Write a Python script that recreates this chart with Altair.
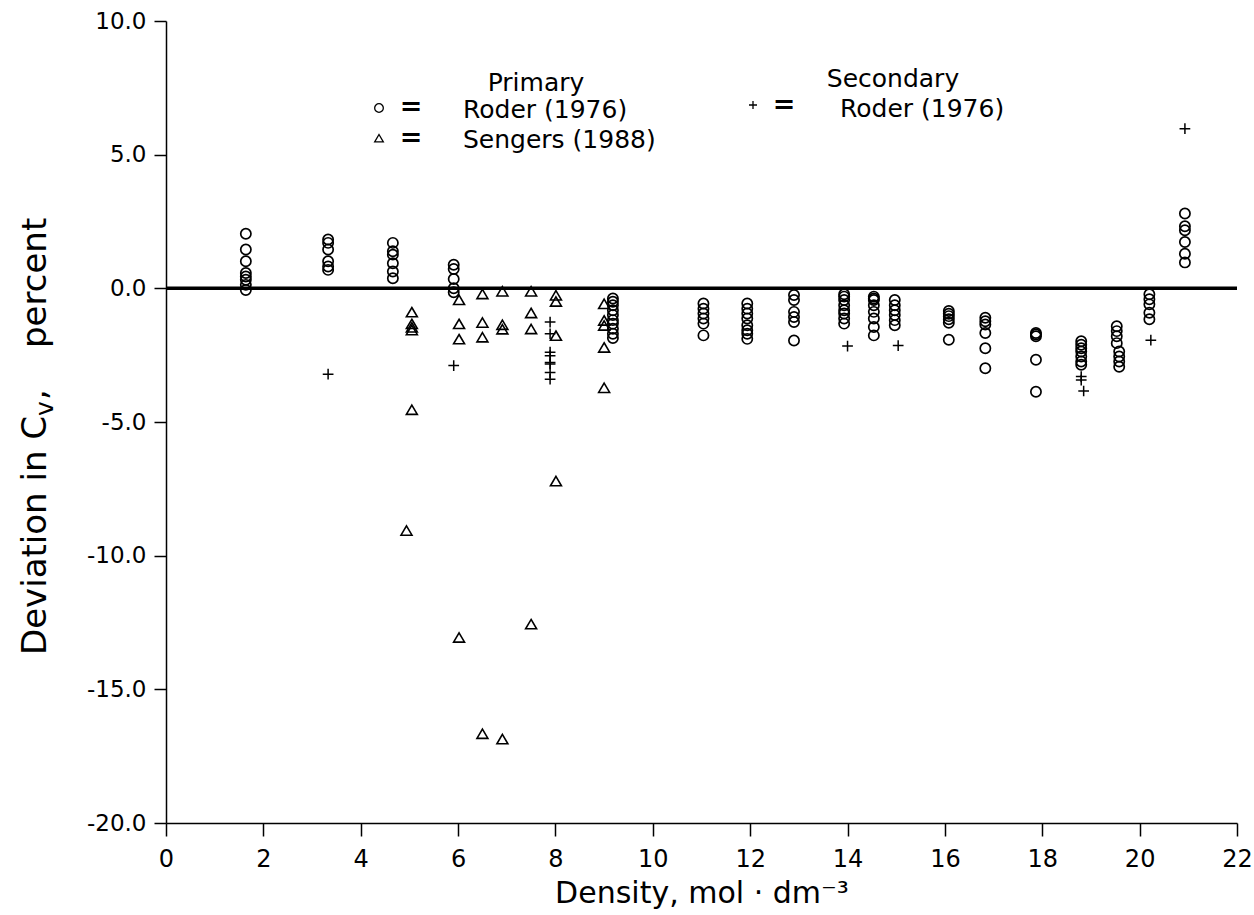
import altair as alt
import pandas as pd

# ---------------- data ----------------
# Primary: Roder (1976) -- open circles, grouped by density column
roder_density = [1.64, 3.33, 4.66, 5.91, 9.18, 11.04, 11.94, 12.90, 13.93,
                 14.54, 14.97, 16.08, 16.83, 17.87, 18.80, 19.53, 19.58,
                 20.20, 20.93]
roder_dev = [
    [2.04, 1.45, 1.01, 0.57, 0.44, 0.32, 0.13, -0.06],
    [1.83, 1.70, 1.45, 1.01, 0.82, 0.69],
    [1.70, 1.39, 1.26, 0.94, 0.63, 0.38],
    [0.88, 0.72, 0.35, 0.0, -0.15],
    [-0.38, -0.50, -0.63, -0.82, -1.00, -1.19, -1.32, -1.51, -1.70, -1.86],
    [-0.57, -0.76, -0.94, -1.13, -1.32, -1.76],
    [-0.57, -0.76, -0.94, -1.13, -1.38, -1.57, -1.70, -1.89],
    [-0.25, -0.44, -0.88, -1.07, -1.26, -1.95],
    [-0.22, -0.31, -0.44, -0.63, -0.82, -0.94, -1.13, -1.32],
    [-0.31, -0.38, -0.44, -0.63, -0.88, -1.13, -1.45, -1.76],
    [-0.44, -0.63, -0.82, -1.00, -1.19, -1.38],
    [-0.85, -0.95, -1.04, -1.16, -1.29, -1.92],
    [-1.10, -1.23, -1.35, -1.67, -2.24, -2.99],
    [-1.67, -1.73, -1.79, -2.67, -3.87],
    [-1.98, -2.11, -2.24, -2.36, -2.55, -2.74, -2.86],
    [-1.42, -1.60, -1.79, -2.05],
    [-2.36, -2.55, -2.74, -2.93],
    [-0.22, -0.41, -0.60, -0.91, -1.16],
    [2.80, 2.32, 2.17, 1.73, 1.29, 0.97],
]

# Primary: Sengers (1988) -- open triangles
sengers_density = [4.94, 5.05, 6.02, 6.50, 6.91, 7.50, 8.01, 9.00]
sengers_dev = [
    [-9.05],
    [-0.88, -1.32, -1.45, -1.55, -4.53],
    [-0.42, -1.32, -1.89, -13.05],
    [-0.20, -1.27, -1.82, -16.65],
    [-0.10, -1.35, -1.52, -16.85],
    [-0.10, -0.91, -1.51, -12.55],
    [-0.25, -0.48, -1.76, -7.20],
    [-0.57, -1.19, -1.38, -2.20, -3.71],
]

# Secondary: Roder (1976) -- plus signs
second_density = [3.33, 5.91, 7.89, 14.00, 15.04, 18.80, 18.85, 20.23, 20.93]
second_dev = [
    [-3.21],
    [-2.89],
    [-1.26, -1.70, -2.39, -2.52, -2.77, -2.83, -3.15, -3.40],
    [-2.16],
    [-2.14],
    [-3.30, -3.43],
    [-3.84],
    [-1.94],
    [5.97],
]

x_ticks = [0, 2, 4, 6, 8, 10, 12, 14, 16, 18, 20, 22]
y_ticks = [-20, -15, -10, -5, 0, 5, 10]

# y-axis title pieces (C with subscript v)
ytitle_parts = ["Deviation in C", "v", ",", "percent"]


def expand(dens, devs):
    rows = []
    for d, vals in zip(dens, devs):
        for v in vals:
            rows.append({"density": d, "dev": v})
    return pd.DataFrame(rows)


df_roder = expand(roder_density, roder_dev)
df_sengers = expand(sengers_density, sengers_dev)
df_second = expand(second_density, second_dev)

FONT = "DejaVu Sans"
LEFT, TOP = 166, 21
W, H = 1071, 802

TRI = "M0,-0.8L1,0.9L-1,0.9Z"
PLUS = "M-1,0H1M0,-1V1"

xscale = alt.Scale(domain=[0, 22], nice=False, zero=False)
yscale = alt.Scale(domain=[-20, 10], nice=False, zero=False)

xaxis = alt.Axis(
    values=x_ticks, format="d", grid=False,
    tickSize=13, tickWidth=1.5, tickColor="black",
    domainColor="black", domainWidth=1.5,
    labelFont=FONT, labelFontSize=24, labelColor="black", labelPadding=11,
    labelFlush=False,
    title="Density, mol · dm⁻³", titleFont=FONT, titleFontSize=30,
    titleFontWeight="normal", titleColor="black",
    titleY=79, titleBaseline="alphabetic",
)
yaxis = alt.Axis(
    values=y_ticks, grid=False,
    labelExpr="replace(format(datum.value, '.1f'), '\u2212', '-')",
    tickSize=12, tickWidth=1.5, tickColor="black",
    domainColor="black", domainWidth=1.5,
    labelFont=FONT, labelFontSize=23, labelColor="black", labelPadding=8,
    labelFlush=False,
    title=None,
)

base_x = alt.X("density:Q", scale=xscale, axis=xaxis)
base_y = alt.Y("dev:Q", scale=yscale, axis=yaxis)

zero_df = pd.DataFrame({"density": [0], "density2": [22], "dev": [0]})
zero_line = alt.Chart(zero_df).mark_rule(color="black", strokeWidth=3.5).encode(
    x=base_x, x2="density2:Q", y=base_y
)

circles = alt.Chart(df_roder).mark_point(
    shape="circle", size=105, filled=False, color="black", strokeWidth=1.7, opacity=1
).encode(x=base_x, y=base_y)

triangles = alt.Chart(df_sengers).mark_point(
    shape=TRI, size=120, filled=False, color="black", strokeWidth=1.6, opacity=1
).encode(x=base_x, y=base_y)

pluses = alt.Chart(df_second).mark_point(
    shape=PLUS, size=115, filled=False, color="black", strokeWidth=1.5, opacity=1
).encode(x=base_x, y=base_y)

# ---------------- y-axis title as rotated text pieces (pixel positions) ----------------
ytitle_df = pd.DataFrame({
    "label": ytitle_parts,
    "px": [46 - LEFT, 53 - LEFT, 46 - LEFT, 46 - LEFT],
    "py": [655 - TOP, 416 - TOP, 400 - TOP, 348 - TOP],
    "fs": [34, 25, 34, 34],
})
ytitle = alt.Chart(ytitle_df).mark_text(
    font=FONT, angle=270, align="left", baseline="alphabetic", color="black"
).encode(
    x=alt.X("px:Q", scale=None), y=alt.Y("py:Q", scale=None),
    size=alt.Size("fs:Q", scale=None, legend=None), text="label:N",
)

# ---------------- legend drawn as annotations (pixel positions) ----------------
leg_text = pd.DataFrame({
    "label": ["Primary", "Roder (1976)", "Sengers (1988)", "Secondary", "Roder (1976)"],
    "px": [536 - LEFT, 463 - LEFT, 463 - LEFT, 893 - LEFT, 840 - LEFT],
    "py": [91 - TOP, 118 - TOP, 148 - TOP, 87 - TOP, 117 - TOP],
    "align": ["center", "left", "left", "center", "left"],
})
leg_center = leg_text[leg_text["align"] == "center"]
leg_left = leg_text[leg_text["align"] == "left"]

txt_c = alt.Chart(leg_center).mark_text(
    font=FONT, fontSize=25, align="center", baseline="alphabetic", color="black"
).encode(x=alt.X("px:Q", scale=None), y=alt.Y("py:Q", scale=None), text="label:N")
txt_l = alt.Chart(leg_left).mark_text(
    font=FONT, fontSize=25, align="left", baseline="alphabetic", color="black"
).encode(x=alt.X("px:Q", scale=None), y=alt.Y("py:Q", scale=None), text="label:N")

eq_df = pd.DataFrame({
    "px": [411 - LEFT, 411 - LEFT, 784 - LEFT],
    "py": [107 - TOP, 138 - TOP, 105 - TOP],
    "label": ["=", "=", "="],
})
eq = alt.Chart(eq_df).mark_text(
    font=FONT, fontSize=27, fontWeight="bold", align="center", baseline="middle",
    color="black"
).encode(x=alt.X("px:Q", scale=None), y=alt.Y("py:Q", scale=None), text="label:N")

sym_circle = alt.Chart(pd.DataFrame({"px": [379 - LEFT], "py": [108 - TOP]})).mark_point(
    shape="circle", size=75, filled=False, color="black", strokeWidth=1.3, opacity=1
).encode(x=alt.X("px:Q", scale=None), y=alt.Y("py:Q", scale=None))
sym_tri = alt.Chart(pd.DataFrame({"px": [379 - LEFT], "py": [138 - TOP]})).mark_point(
    shape=TRI, size=75, filled=False, color="black", strokeWidth=1.3, opacity=1
).encode(x=alt.X("px:Q", scale=None), y=alt.Y("py:Q", scale=None))
sym_plus = alt.Chart(pd.DataFrame({"px": [753 - LEFT], "py": [105 - TOP]})).mark_point(
    shape=PLUS, size=64, filled=False, color="black", strokeWidth=1.3, opacity=1
).encode(x=alt.X("px:Q", scale=None), y=alt.Y("py:Q", scale=None))

chart = alt.layer(
    zero_line, triangles, pluses, circles, ytitle,
    txt_c, txt_l, eq, sym_circle, sym_tri, sym_plus
).properties(
    width=W, height=H,
    autosize=alt.AutoSizeParams(type="none"),
    padding={"left": LEFT, "top": TOP, "right": 1254 - LEFT - W, "bottom": 915 - TOP - H},
    background="white",
).configure_view(stroke=None)

chart.save("out.html", embed_options={"renderer": "svg", "actions": False})
